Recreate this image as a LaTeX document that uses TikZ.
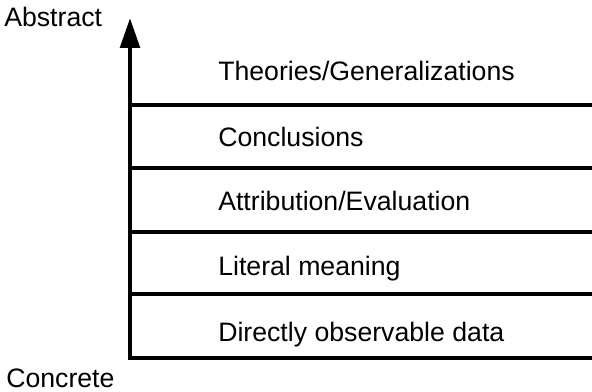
\documentclass[tikz,border=0pt]{standalone}
\usepackage{fontspec}
\setmainfont{Liberation Sans}
\usepackage{tikz}
\usetikzlibrary{arrows.meta}
\usetikzlibrary{positioning}

\tikzset{
  level/.style={anchor=base west, inner sep=0pt, font=\fontsize{20}{24}\selectfont},
  rung/.style={line width=3.5pt},
  axis/.style={line width=3.5pt, line join=miter, -{Triangle[length=22.5pt, width=14.5pt]}}
}

\begin{document}
\begin{tikzpicture}[x=0.75pt, y=-0.75pt]
\useasboundingbox (0,0) rectangle (592,392);
\coordinate (top) at (130,18);
\coordinate (bot) at (130,358);
\coordinate (botright) at (592,358);
% levels, concrete at the bottom
\foreach \y in {105, 168, 232, 294}
  \draw [rung] (top |- 0,\y) -- (592,\y);
\draw [axis] (botright) -- (bot) -- (top);
\node [level] (theo) at (218,81) {Theories/Generalizations};
\node [level] (concl) at (218,146.5) {Conclusions};
\node [level] (attr) at (218,210) {Attribution/Evaluation};
\node [level] (lit) at (218,275) {Literal meaning};
\node [level] (data) at (218,341) {Directly observable data};
\node [level] (abstract) at (4,27) {Abstract};
\node [level] (concrete) at (6,387.5) {Concrete};
\end{tikzpicture}
\end{document}
